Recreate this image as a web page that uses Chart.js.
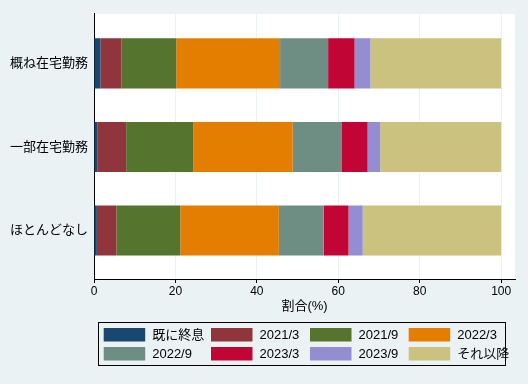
<!DOCTYPE html>
<html lang="ja">
<head>
<meta charset="UTF-8">
<title>在宅勤務の終了時期</title>
<script src="https://cdn.jsdelivr.net/npm/chart.js"></script>
<style>
  body { margin: 0; background: #eaf2f3; }
  canvas { display: block; }
</style>
</head>
<body>
<canvas id="grafico" width="528" height="384"></canvas>
<script>
// カテゴリ（上から順）
const categorias = ['概ね在宅勤務', '一部在宅勤務', 'ほとんどなし'];
const series = ['既に終息', '2021/3', '2021/9', '2022/3', '2022/9', '2023/3', '2023/9', 'それ以降'];
const cores = ['#1a476f', '#90353b', '#55752f', '#e37e00', '#6e8e84', '#c10534', '#938dd2', '#cac27e'];

// 割合(%) — 各カテゴリの値
const jaShuusoku = [1.6, 0.8, 0.7];
const v2021_3 = [5.1, 7.1, 4.8];
const v2021_9 = [13.5, 16.5, 15.7];
const v2022_3 = [25.5, 24.4, 24.2];
const v2022_9 = [11.8, 12.1, 11.0];
const v2023_3 = [6.5, 6.3, 6.1];
const v2023_9 = [3.9, 3.1, 3.5];
const soreIkou = [32.1, 29.7, 34.0];
const valores = [jaShuusoku, v2021_3, v2021_9, v2022_3, v2022_9, v2023_3, v2023_9, soreIkou];

const xTicks = [0, 20, 40, 60, 80, 100];

const fonte = "'Liberation Sans', 'Noto Sans CJK JP', sans-serif";

const datasets = series.map((nome, s) => ({
    label: nome,
    data: valores[s].map((v, i) => ({ x: v, y: i })),
    backgroundColor: cores[s],
    borderWidth: 0,
    barPercentage: 0.6,
    categoryPercentage: 1
}));

// fundo branco da área do gráfico
const fundoPlot = {
    id: 'fundoPlot',
    beforeDraw(chart) {
        const a = chart.chartArea, ctx = chart.ctx;
        ctx.save();
        ctx.fillStyle = '#ffffff';
        ctx.fillRect(a.left, a.top, a.right - a.left, a.bottom - a.top);
        ctx.restore();
    }
};

// legenda em caixa, 4 colunas
const colX = [103.7, 211, 310, 408.7];
const legendaCaixa = {
    id: 'legendaCaixa',
    afterDraw(chart) {
        const ctx = chart.ctx;
        ctx.save();
        ctx.strokeStyle = '#000';
        ctx.lineWidth = 1;
        ctx.strokeRect(98.5, 322.5, 407, 43);
        ctx.font = '13px ' + fonte;
        ctx.textBaseline = 'middle';
        ctx.textAlign = 'left';
        chart.data.datasets.forEach((ds, i) => {
            const col = i % 4, row = Math.floor(i / 4);
            const x = colX[col];
            const y = 328 + row * 19;
            ctx.fillStyle = ds.backgroundColor;
            ctx.fillRect(x, y, 41.5, 13.5);
            ctx.fillStyle = '#000';
            ctx.fillText(ds.label, x + 48.5, y + 7.5);
        });
        ctx.restore();
    }
};

new Chart(document.getElementById('grafico'), {
    type: 'bar',
    data: { datasets: datasets },
    plugins: [fundoPlot, legendaCaixa],
    options: {
        indexAxis: 'y',
        responsive: false,
        animation: false,
        layout: { padding: { top: 12, right: 13, bottom: 68, left: 0 } },
        plugins: {
            legend: { display: false },
            tooltip: { enabled: false }
        },
        scales: {
            x: {
                type: 'linear',
                stacked: true,
                min: 0,
                max: 103.4,
                afterBuildTicks: s => { s.ticks = xTicks.map(v => ({ value: v })); },
                afterFit: s => { s.height = 37; },
                grid: { color: '#eaf2f3', tickColor: '#000', tickLength: 4, lineWidth: 1 },
                border: { color: '#000', width: 1 },
                ticks: { color: '#000', font: { family: fonte, size: 12 }, padding: 1, maxRotation: 0 },
                title: {
                    display: true,
                    text: '割合(%)',
                    color: '#000',
                    font: { family: fonte, size: 13 },
                    padding: { top: 0, bottom: 1.5 }
                }
            },
            y: {
                type: 'linear',
                stacked: true,
                reverse: true,
                offset: false,
                min: -0.594,
                max: 2.58,
                afterBuildTicks: s => { s.ticks = categorias.map((c, i) => ({ value: i })); },
                afterFit: s => { s.width = 94; },
                grid: { display: false, drawTicks: false, offset: false },
                border: { color: '#000', width: 1 },
                ticks: {
                    color: '#000',
                    font: { family: fonte, size: 13 },
                    padding: 6,
                    callback: v => categorias[v] ?? ''
                }
            }
        }
    }
});
</script>
</body>
</html>
